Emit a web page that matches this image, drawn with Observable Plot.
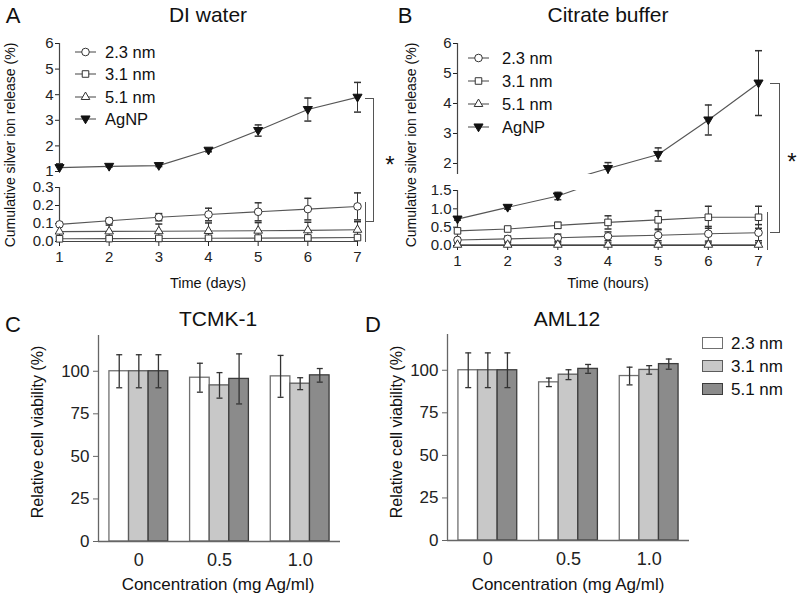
<!DOCTYPE html>
<html><head><meta charset="utf-8">
<script src="https://cdn.jsdelivr.net/npm/d3@7"></script>
<script src="https://cdn.jsdelivr.net/npm/@observablehq/plot@0.6"></script>
<style>
body{margin:0;background:#fff;}
#root{position:relative;width:800px;height:595px;overflow:hidden;font-family:"Liberation Sans",Arial,sans-serif;color:#111;}
.t{position:absolute;white-space:nowrap;transform:translate(-50%,-50%);line-height:1;}
.rot{transform:translate(-50%,-50%) rotate(-90deg);}
.ln{position:absolute;box-sizing:border-box;border-color:#555;border-style:solid;border-width:0;}
</style></head><body><div id="root"></div>
<script>
// ---------- data ----------
const days = [1, 2, 3, 4, 5, 6, 7];
const lineSeries = ["2.3 nm", "3.1 nm", "5.1 nm", "AgNP"];

// Panel A: DI water (days)
const water23 = [0.095, 0.115, 0.135, 0.15, 0.165, 0.18, 0.195];
const water23Err = [0.01, 0.015, 0.02, 0.035, 0.05, 0.06, 0.075];
const water31 = [0.015, 0.016, 0.017, 0.018, 0.019, 0.02, 0.022];
const water31Err = [0.01, 0.012, 0.012, 0.012, 0.012, 0.012, 0.012];
const water51 = [0.055, 0.056, 0.057, 0.058, 0.06, 0.062, 0.065];
const water51Err = [0.03, 0.035, 0.04, 0.045, 0.045, 0.045, 0.045];
const waterAgNP = [1.15, 1.2, 1.23, 1.83, 2.6, 3.42, 3.9];
const waterAgNPErr = [0.15, 0.03, 0.04, 0.06, 0.22, 0.45, 0.58];
const waterUpperTicks = [1, 2, 3, 4, 5, 6];
const waterLowerTicks = [0, 0.1, 0.2, 0.3];

// Panel B: citrate buffer (hours)
const citrate23 = [0.15, 0.18, 0.21, 0.25, 0.28, 0.32, 0.35];
const citrate23Err = [0.06, 0.08, 0.1, 0.12, 0.15, 0.2, 0.22];
const citrate31 = [0.4, 0.45, 0.55, 0.63, 0.7, 0.77, 0.77];
const citrate31Err = [0.05, 0.05, 0.08, 0.18, 0.25, 0.3, 0.3];
const citrate51 = [0.02, 0.02, 0.02, 0.02, 0.02, 0.02, 0.02];
const citrate51Err = [0.05, 0.05, 0.05, 0.05, 0.05, 0.05, 0.05];
const citrateAgNP = [0.72, 1.04, 1.35, 1.83, 2.3, 3.45, 4.68];
const citrateAgNPErr = [0.03, 0.05, 0.1, 0.2, 0.22, 0.5, 1.08];
const citrateUpperTicks = [2, 3, 4, 5, 6];
const citrateLowerTicks = [0, 0.5, 1.0, 1.5];

// Panels C, D: cell viability
const concentrations = ["0", "0.5", "1.0"];
const sizes = ["2.3 nm", "3.1 nm", "5.1 nm"];
const viabilityTicks = [0, 25, 50, 75, 100];
const tcmk23 = [100, 96.2, 97.0];
const tcmk23Err = [9.7, 8.5, 12.3];
const tcmk31 = [100, 91.7, 92.7];
const tcmk31Err = [9.7, 7.5, 3.5];
const tcmk51 = [100, 95.5, 97.6];
const tcmk51Err = [9.7, 14.7, 4.0];
const aml23 = [100, 92.9, 96.6];
const aml23Err = [10.2, 2.5, 5.2];
const aml31 = [100, 97.4, 100.2];
const aml31Err = [10.2, 2.9, 2.5];
const aml51 = [100, 100.8, 103.6];
const aml51Err = [10.2, 2.6, 3.0];

// ---------- helpers ----------
const root = document.getElementById("root");
const FONT = '"Liberation Sans", Arial, sans-serif';
const W = 800, H = 595;

const capSymbol = {draw(ctx, size) { const w = Math.sqrt(size / Math.PI); ctx.moveTo(-w, 0); ctx.lineTo(w, 0); }};
const downTri = {draw(ctx, size) {
  const r = Math.sqrt(size / Math.PI);
  const w = r * 1.2, h = r;
  ctx.moveTo(-w, -h * 0.8); ctx.lineTo(w, -h * 0.8); ctx.lineTo(0, h * 1.25); ctx.closePath();
}};
const markerStyles = [
  {symbol: "circle", r: 3.8, fill: "white", stroke: "#333"},
  {symbol: "square", r: 3.7, fill: "white", stroke: "#333"},
  {symbol: "triangle", r: 3.2, fill: "white", stroke: "#333"},
  {symbol: downTri, r: 3.8, fill: "#111", stroke: "#111"}
];

function layer(opts) {
  const svg = Plot.plot({
    width: W, height: H,
    style: {position: "absolute", left: "0px", top: "0px", background: "transparent", overflow: "visible", fontFamily: FONT, color: "#222"},
    ...opts
  });
  root.appendChild(svg);
}

function text(s, x, y, size, rot) {
  const d = document.createElement("div");
  d.className = "t" + (rot ? " rot" : "");
  d.textContent = s;
  d.style.left = x + "px"; d.style.top = y + "px"; d.style.fontSize = size + "px";
  root.appendChild(d);
  return d;
}
function box(x, y, w, h, sides, bw) {
  const d = document.createElement("div");
  d.className = "ln";
  Object.assign(d.style, {left: x + "px", top: y + "px", width: w + "px", height: h + "px"});
  sides.forEach(s => d.style["border" + s + "Width"] = (bw || 1.3) + "px");
  root.appendChild(d);
}

function lineSegment(cfg) {
  const [lo, hi] = cfg.domain;
  const marks = [];
  const rowsBy = cfg.data.map(([v, e], k) => days.map((x, i) => ({x, y: v[i], e: e[i], k})));
  rowsBy.forEach(rows => {
    const inside = rows.filter(r => r.y >= lo && r.y <= hi);
    marks.push(Plot.ruleX(inside, {x: "x", y1: r => Math.max(lo, r.y - r.e), y2: r => Math.min(hi, r.y + r.e), stroke: "#333", strokeWidth: 1}));
    marks.push(Plot.dot(inside.filter(r => r.y + r.e <= hi), {x: "x", y: r => r.y + r.e, symbol: capSymbol, r: 3.5, fill: "none", stroke: "#333"}));
    marks.push(Plot.dot(inside.filter(r => r.y - r.e >= lo), {x: "x", y: r => r.y - r.e, symbol: capSymbol, r: 3.5, fill: "none", stroke: "#333"}));
  });
  rowsBy.forEach(rows => marks.push(Plot.line(rows, {x: "x", y: "y", stroke: "#555", strokeWidth: 1.1, clip: true})));
  marks.push(Plot.ruleX([days[0]], {stroke: "#444", strokeWidth: 1.2}));
  marks.push(Plot.axisY({ticks: cfg.ticks, tickFormat: cfg.fmt, tickSize: 4, tickPadding: 2, fontSize: 15, label: null}));
  if (cfg.xAxis) {
    marks.push(Plot.ruleY([lo], {stroke: "#444", strokeWidth: 1.2}));
    marks.push(Plot.axisX({ticks: days, tickFormat: d3.format("d"), tickSize: 5, tickPadding: 5, fontSize: 15, label: null}));
  }
  rowsBy.forEach((rows, k) => {
    const inside = rows.filter(r => r.y >= lo && r.y <= hi);
    marks.push(Plot.dot(inside, {x: "x", y: "y", ...markerStyles[k], strokeWidth: 1}));
  });
  layer({
    marginLeft: cfg.px[0], marginRight: W - cfg.px[1], marginTop: cfg.py[1], marginBottom: H - cfg.py[0],
    x: {domain: [days[0], days[days.length - 1]], axis: cfg.xAxis ? undefined : null},
    y: {domain: cfg.domain},
    marks
  });
}

const fmt0 = d3.format("d"), fmt1 = d3.format(".1f");
const waterData = [[water23, water23Err], [water31, water31Err], [water51, water51Err], [waterAgNP, waterAgNPErr]];
const citrateData = [[citrate23, citrate23Err], [citrate31, citrate31Err], [citrate51, citrate51Err], [citrateAgNP, citrateAgNPErr]];

// Panel A
lineSegment({px: [59, 357], py: [171, 43], domain: [1, 6], ticks: waterUpperTicks, fmt: fmt0, data: waterData, xAxis: false});
lineSegment({px: [59, 357], py: [241, 187], domain: [0, 0.3], ticks: waterLowerTicks, fmt: fmt1, data: waterData, xAxis: true});
// Panel B
lineSegment({px: [457, 758], py: [174, 43], domain: [1.633, 6], ticks: citrateUpperTicks, fmt: fmt0, data: citrateData, xAxis: false});
lineSegment({px: [457, 758], py: [245, 190], domain: [0, 1.5], ticks: citrateLowerTicks, fmt: fmt1, data: citrateData, xAxis: true});

// Bar panels
const barFills = ["#ffffff", "#c8c8c8", "#8b8b8b"];
const barStrokes = ["#707070", "#5c5c5c", "#3c3c3c"];
const bw = 0.243;
function barPanel(cfg) {
  const marks = [];
  const rows = cfg.series.flatMap(([v, e], s) => v.map((val, g) => ({g, s, v: val, e: e[g], xc: g + (s - 1) * bw})));
  sizes.forEach((_, s) => {
    marks.push(Plot.rectY(rows.filter(r => r.s === s), {x1: r => r.xc - bw / 2, x2: r => r.xc + bw / 2, y1: 0, y2: "v", fill: barFills[s], stroke: barStrokes[s], strokeWidth: 1.3}));
  });
  marks.push(Plot.ruleX(rows, {x: "xc", y1: r => r.v - r.e, y2: r => r.v + r.e, stroke: "#333", strokeWidth: 1.3}));
  marks.push(Plot.dot(rows, {x: "xc", y: r => r.v + r.e, symbol: capSymbol, r: 3, fill: "none", stroke: "#333", strokeWidth: 1.3}));
  marks.push(Plot.dot(rows, {x: "xc", y: r => r.v - r.e, symbol: capSymbol, r: 3, fill: "none", stroke: "#333", strokeWidth: 1.3}));
  marks.push(Plot.ruleX([-0.5], {stroke: "#666", strokeWidth: 1.3}));
  marks.push(Plot.ruleY([0], {stroke: "#666", strokeWidth: 1.3}));
  marks.push(Plot.axisY({ticks: viabilityTicks, tickSize: 5, tickPadding: 4, fontSize: 17, label: null, stroke: "#666"}));
  marks.push(Plot.axisX({ticks: concentrations.map((_, i) => i), tickFormat: i => concentrations[i], tickSize: 0, tickPadding: 12, fontSize: 18, label: null}));
  layer({
    marginLeft: cfg.px[0], marginRight: W - cfg.px[1], marginTop: cfg.py[1], marginBottom: H - cfg.py[0],
    x: {domain: [-0.5, 2.5]},
    y: {domain: [0, 121]},
    marks
  });
}
barPanel({px: [98, 340], py: [541, 335], series: [[tcmk23, tcmk23Err], [tcmk31, tcmk31Err], [tcmk51, tcmk51Err]]});
barPanel({px: [447, 689], py: [540, 334], series: [[aml23, aml23Err], [aml31, aml31Err], [aml51, aml51Err]]});

// ---------- legends for A, B ----------
function lineLegend(x0, x1, tx, ys) {
  const svg = d3.select(root).append("svg")
    .attr("width", W).attr("height", H)
    .style("position", "absolute").style("left", "0px").style("top", "0px").style("overflow", "visible");
  lineSeries.forEach((name, k) => {
    const y = ys[k];
    svg.append("line").attr("x1", x0).attr("x2", x1).attr("y1", y).attr("y2", y).attr("stroke", "#555").attr("stroke-width", 1.1);
    const m = markerStyles[k];
    const type = typeof m.symbol === "string" ? ({circle: d3.symbolCircle, square: d3.symbolSquare, triangle: d3.symbolTriangle})[m.symbol] : m.symbol;
    svg.append("path").attr("d", d3.symbol(type, m.r * m.r * Math.PI)()).attr("transform", `translate(${(x0 + x1) / 2},${y})`)
      .attr("fill", m.fill).attr("stroke", m.stroke);
    text(name, 0, y, 16.5).style.cssText += `transform:translate(0,-50%);left:${tx}px;`;
  });
}
lineLegend(75, 96, 105, [52, 74, 97, 119]);
lineLegend(468, 489, 502, [58, 81, 104, 127]);

// D legend
sizes.forEach((name, s) => {
  const y = [343, 366, 389][s];
  const b = document.createElement("div");
  Object.assign(b.style, {position: "absolute", left: "702px", top: (y - 6) + "px", width: "21px", height: "12px", boxSizing: "border-box", border: "1.3px solid " + barStrokes[s], background: barFills[s]});
  root.appendChild(b);
  text(name, 0, y, 17).style.cssText += `transform:translate(0,-50%);left:731px;`;
});

// brackets + asterisks
box(365, 98, 9, 124, ["Top", "Right", "Bottom"]);
box(365, 202, 2, 40, ["Left"]);
box(770, 83, 10, 150, ["Top", "Right", "Bottom"]);
box(767, 212, 2, 38, ["Left"]);
text("*", 390, 165, 24);
text("*", 792, 162, 24);

// titles & labels
text("A", 13, 16, 22);
text("DI water", 208, 14, 21);
text("B", 405, 16, 22);
text("Citrate buffer", 608, 14, 21);
text("Cumulative silver ion release (%)", 10, 145, 14, true);
text("Cumulative silver ion release (%)", 411, 145, 14, true);
text("Time (days)", 208, 283, 14.5);
text("Time (hours)", 608, 283, 14.5);
text("C", 13, 325, 22);
text("TCMK-1", 218, 318, 21);
text("D", 373, 325, 22);
text("AML12", 567, 318, 21);
text("Relative cell viability (%)", 38, 432, 16, true);
text("Relative cell viability (%)", 397, 432, 16, true);
text("Concentration (mg Ag/ml)", 218, 584, 17);
text("Concentration (mg Ag/ml)", 568, 584, 17);
</script></body></html>
